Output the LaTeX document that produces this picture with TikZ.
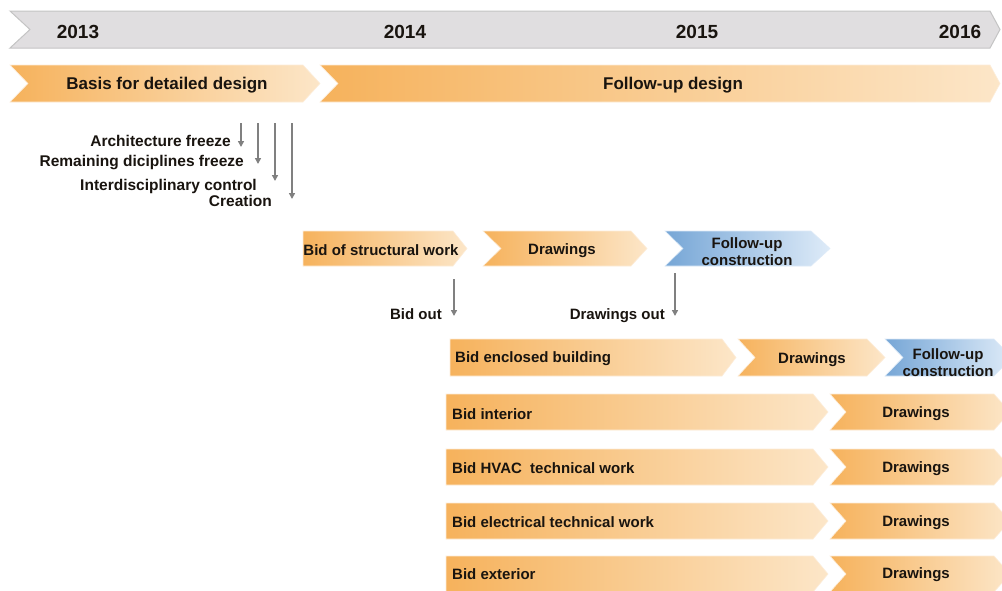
\documentclass[tikz,border=0pt]{standalone}
\usepackage{fontspec}
\setmainfont{Liberation Sans}
\usetikzlibrary{arrows.meta}
\definecolor{orA}{RGB}{246,178,92}
\definecolor{orB}{RGB}{252,230,200}
\definecolor{blA}{RGB}{118,166,214}
\definecolor{blB}{RGB}{222,235,248}
\definecolor{grF}{RGB}{224,222,224}
\definecolor{grB}{RGB}{196,196,196}
\definecolor{arr}{RGB}{128,128,128}
\definecolor{txt}{RGB}{25,20,15}
% #1 style, #2 left x, #3 tip x, #4 top y, #5 bottom y, #6 notch depth, #7 tip depth
\newcommand\chevpath[7]{%
  \shade[#1] (#2,#4) -- ({#3-#7},#4) -- (#3,{(#4+#5)/2}) -- ({#3-#7},#5) -- (#2,#5) -- ({#2+#6},{(#4+#5)/2}) -- cycle;}
\begin{document}
\begin{tikzpicture}[x=1pt,y=-1pt,
  orbox/.style={left color=orA,right color=orB,draw=orB!70!white,line width=0.6pt},
  blbox/.style={left color=blA,right color=blB,draw=blB,line width=0.6pt},
  lbl/.style={font=\bfseries\fontsize{15}{17}\selectfont,text=txt,inner sep=0pt,yshift=-1.5pt},
  flbl/.style={font=\bfseries\fontsize{15.5}{17}\selectfont,text=txt,inner sep=0pt,yshift=-1pt},
  year/.style={font=\bfseries\fontsize{19}{21}\selectfont,text=txt,inner sep=0pt,yshift=-1pt},
  head/.style={font=\bfseries\fontsize{17}{19}\selectfont,text=txt,inner sep=0pt,yshift=-1.5pt},
  garrow/.style={draw=arr,line width=1.8pt,-{Triangle[length=6pt,width=6pt]}}]
\useasboundingbox (0,0) rectangle (1002,590);
\clip (0,0) rectangle (1002,590);
\fill[white] (0,0) rectangle (1002,590);
% timeline
\draw[fill=grF,draw=grB,line width=1pt] (10,11) -- (990,11) -- (1000,29.5) -- (990,48) -- (10,48) -- (30,29.5) -- cycle;
\node[year] (y13) at (78,31) {2013};
\node[year] (y14) at (405,31) {2014};
\node[year] (y15) at (697,31) {2015};
\node[year] (y16) at (960,31) {2016};
% phases
\chevpath{orbox}{10}{320}{65}{102}{18}{17}
\chevpath{orbox}{320}{1000}{65}{102}{18}{10}
\node[head] (basis) at (167,84) {Basis for detailed design};
\node[head] (fud) at (673,84) {Follow-up design};
% freeze arrows
\coordinate (a1s) at (241,123); \coordinate (a1e) at (241,147);
\coordinate (a2s) at (258,123); \coordinate (a2e) at (258,164);
\coordinate (a3s) at (275,123); \coordinate (a3e) at (275,181);
\coordinate (a4s) at (292,123); \coordinate (a4e) at (292,199);
\draw[garrow] (a1s) -- (a1e);
\draw[garrow] (a2s) -- (a2e);
\draw[garrow] (a3s) -- (a3e);
\draw[garrow] (a4s) -- (a4e);
\node[flbl,anchor=east] (af) at (231,140) {Architecture freeze};
\node[flbl,anchor=east] (rdf) at (244,162) {Remaining diciplines freeze};
\node[flbl,anchor=east] (ic) at (257,185) {Interdisciplinary control};
\node[flbl,anchor=east] (cr) at (272,200) {Creation};
% row 3
\chevpath{orbox}{303}{467}{231}{266}{0}{14}
\chevpath{orbox}{483}{647}{231}{266}{18}{16}
\chevpath{blbox}{665}{830}{231}{266}{18}{19}
\node[lbl] (bsw) at (381,249) {Bid of structural work};
\node[lbl] (dr1) at (562,249) {Drawings};
\node[lbl,align=center] (fuc1) at (747,250) {Follow-up\\construction};
\coordinate (bos) at (454,279); \coordinate (boe) at (454,316);
\coordinate (dos) at (675,273); \coordinate (doe) at (675,316);
\draw[garrow] (bos) -- (boe);
\draw[garrow] (dos) -- (doe);
\node[lbl,anchor=east] (bo) at (442,313) {Bid out};
\node[lbl,anchor=east] (do) at (665,314) {Drawings out};
% row 4
\chevpath{orbox}{450}{736}{339}{376}{0}{14}
\chevpath{orbox}{738}{885}{339}{376}{17}{18}
\chevpath{blbox}{885}{1012}{339}{376}{18}{18}
\node[lbl,anchor=west] (beb) at (455,357) {Bid enclosed building};
\node[lbl] (dr2) at (812,358) {Drawings};
\node[lbl,align=center] (fuc2) at (948,361) {Follow-up\\construction};
% rows 5-8
\chevpath{orbox}{446}{828}{394}{430}{0}{15}
\chevpath{orbox}{830}{1010}{394}{430}{16}{16}
\node[lbl,anchor=west] (bi) at (452,413) {Bid interior};
\node[lbl] (dr3) at (916,412) {Drawings};
\chevpath{orbox}{446}{828}{449}{485}{0}{15}
\chevpath{orbox}{830}{1010}{449}{485}{16}{16}
\node[lbl,anchor=west] (bh) at (452,467) {Bid HVAC\ \ technical work};
\node[lbl] (dr4) at (916,467) {Drawings};
\chevpath{orbox}{446}{828}{503}{539}{0}{15}
\chevpath{orbox}{830}{1010}{503}{539}{16}{16}
\node[lbl,anchor=west] (be) at (452,521) {Bid electrical technical work};
\node[lbl] (dr5) at (916,521) {Drawings};
\chevpath{orbox}{446}{828}{556}{592}{0}{15}
\chevpath{orbox}{830}{1010}{556}{592}{16}{16}
\node[lbl,anchor=west] (bx) at (452,573) {Bid exterior};
\node[lbl] (dr6) at (916,573) {Drawings};
\end{tikzpicture}
\end{document}
